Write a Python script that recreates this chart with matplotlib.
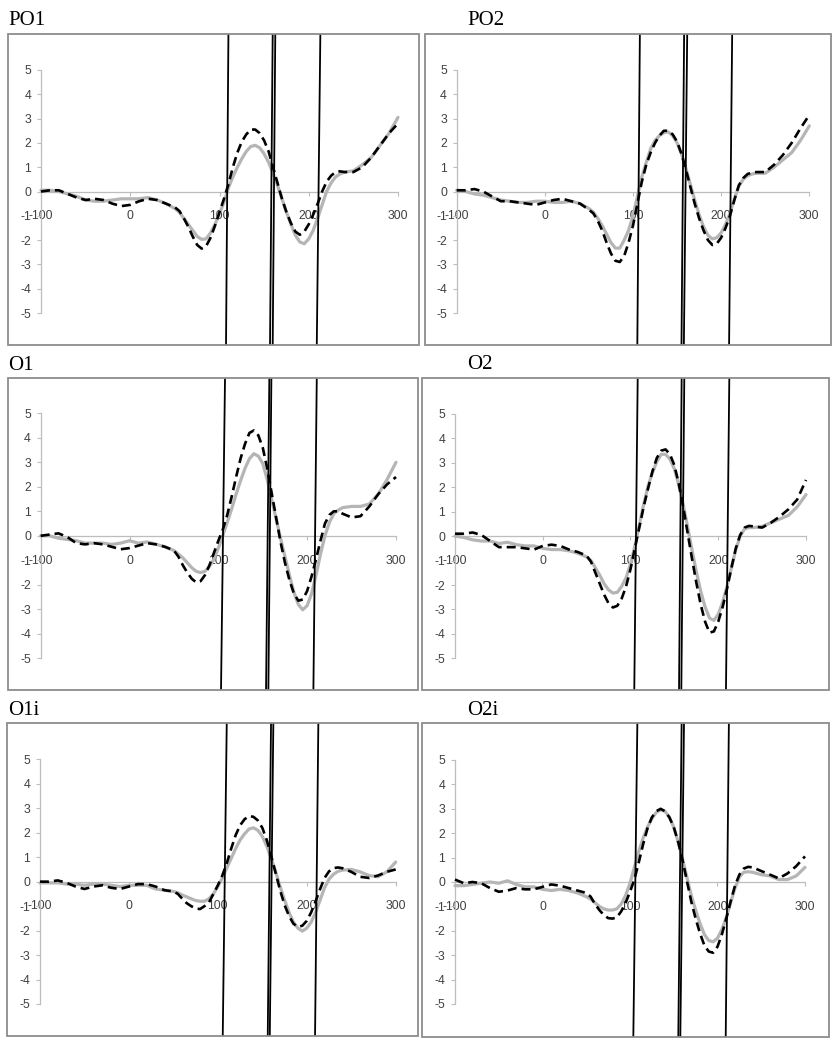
import matplotlib
matplotlib.use("Agg")
import matplotlib.pyplot as plt
from matplotlib.patches import Rectangle

# ---------------- data ----------------
# sampling: every 10 ms in the baseline / late part, every 5 ms around the components
time_ms = list(range(-100, 50, 10)) + list(range(50, 245, 5)) + list(range(250, 301, 10))

PO1_gray = [0.05, 0.05, 0.0, -0.1, -0.2, -0.35, -0.4, -0.4, -0.35, -0.3,
            -0.3, -0.3, -0.25, -0.35, -0.5,
            -0.7, -0.85, -1.1, -1.35, -1.6, -1.85, -1.97, -1.95, -1.7, -1.35,
            -0.9, -0.45, 0.15, 0.6, 1.0, 1.35, 1.65, 1.85, 1.9, 1.8,
            1.55, 1.2, 0.75, 0.25, -0.3, -0.85, -1.35, -1.8, -2.08, -2.15,
            -1.95, -1.6, -1.1, -0.55, 0.0, 0.35, 0.6, 0.72, 0.8,
            0.85, 1.1, 1.4, 1.9, 2.4, 3.05]
PO1_black = [0.0, 0.05, 0.05, -0.1, -0.25, -0.35, -0.3, -0.35, -0.5, -0.6,
             -0.55, -0.4, -0.3, -0.35, -0.5,
             -0.65, -0.8, -1.1, -1.45, -1.85, -2.2, -2.35, -2.25, -1.9, -1.4,
             -0.85, -0.3, 0.3, 1.0, 1.6, 2.05, 2.35, 2.55, 2.55, 2.4,
             2.1, 1.65, 1.0, 0.35, -0.3, -0.85, -1.3, -1.65, -1.78, -1.65,
             -1.35, -0.95, -0.5, 0.0, 0.4, 0.65, 0.8, 0.83, 0.8,
             0.8, 1.0, 1.4, 1.9, 2.4, 2.8]

PO2_gray = [0.05, 0.0, -0.1, -0.15, -0.25, -0.35, -0.4, -0.45, -0.45, -0.4,
            -0.4, -0.45, -0.45, -0.4, -0.5,
            -0.7, -0.85, -1.1, -1.4, -1.75, -2.1, -2.33, -2.33, -2.0, -1.6,
            -1.0, -0.2, 0.6, 1.2, 1.75, 2.1, 2.3, 2.42, 2.45, 2.3,
            2.0, 1.55, 0.95, 0.3, -0.35, -0.95, -1.45, -1.8, -1.95, -1.9,
            -1.7, -1.35, -0.9, -0.3, 0.2, 0.5, 0.65, 0.72, 0.75,
            0.75, 1.0, 1.3, 1.6, 2.1, 2.7]
PO2_black = [0.05, 0.05, 0.1, 0.0, -0.2, -0.4, -0.4, -0.45, -0.5, -0.55,
             -0.45, -0.35, -0.3, -0.4, -0.5,
             -0.75, -0.9, -1.2, -1.6, -2.1, -2.55, -2.85, -2.9, -2.65, -2.1,
             -1.4, -0.5, 0.4, 1.1, 1.6, 2.0, 2.3, 2.5, 2.5, 2.35,
             2.05, 1.55, 0.9, 0.2, -0.5, -1.1, -1.6, -2.0, -2.2, -2.15,
             -1.9, -1.5, -1.0, -0.35, 0.25, 0.55, 0.72, 0.78, 0.8,
             0.8, 1.1, 1.5, 2.0, 2.6, 3.15]

O1_gray = [0.0, 0.0, -0.1, -0.15, -0.2, -0.3, -0.3, -0.3, -0.35, -0.3,
           -0.2, -0.3, -0.25, -0.35, -0.45,
           -0.6, -0.75, -0.9, -1.1, -1.3, -1.45, -1.5, -1.45, -1.25, -0.95,
           -0.5, 0.0, 0.55, 1.1, 1.7, 2.25, 2.75, 3.15, 3.35, 3.25,
           2.95, 2.3, 1.5, 0.7, -0.1, -0.85, -1.6, -2.3, -2.8, -3.02,
           -2.85, -2.35, -1.6, -0.75, 0.0, 0.55, 0.9, 1.05, 1.15,
           1.2, 1.2, 1.3, 1.7, 2.3, 3.0]
O1_black = [0.0, 0.05, 0.1, -0.05, -0.3, -0.35, -0.3, -0.35, -0.45, -0.55,
            -0.5, -0.4, -0.3, -0.35, -0.45,
            -0.6, -0.85, -1.2, -1.5, -1.75, -1.9, -1.85, -1.6, -1.2, -0.7,
            -0.2, 0.25, 0.85, 1.6, 2.4, 3.15, 3.75, 4.2, 4.3, 4.1,
            3.6, 2.75, 1.75, 0.75, -0.25, -1.1, -1.8, -2.35, -2.65, -2.6,
            -2.25, -1.65, -0.95, -0.2, 0.5, 0.85, 1.0, 1.0, 0.9,
            0.75, 0.8, 1.2, 1.7, 2.1, 2.4]

O2_gray = [0.0, -0.05, -0.15, -0.2, -0.2, -0.3, -0.25, -0.35, -0.4, -0.4,
           -0.5, -0.55, -0.55, -0.6, -0.7,
           -0.85, -1.0, -1.3, -1.6, -1.95, -2.2, -2.33, -2.3, -2.05, -1.7,
           -1.15, -0.4, 0.45, 1.3, 2.05, 2.6, 3.05, 3.35, 3.35, 3.15,
           2.75, 2.1, 1.3, 0.4, -0.55, -1.45, -2.25, -2.9, -3.35, -3.45,
           -3.2, -2.7, -2.05, -1.3, -0.55, 0.0, 0.3, 0.35, 0.35,
           0.4, 0.55, 0.7, 0.85, 1.2, 1.7]
O2_black = [0.1, 0.1, 0.15, 0.05, -0.2, -0.45, -0.45, -0.45, -0.5, -0.55,
            -0.4, -0.35, -0.4, -0.55, -0.65,
            -0.8, -1.05, -1.5, -1.95, -2.4, -2.75, -2.92, -2.85, -2.55, -2.05,
            -1.35, -0.5, 0.35, 1.2, 1.95, 2.65, 3.2, 3.5, 3.55, 3.35,
            2.9, 2.15, 1.2, 0.15, -0.9, -1.9, -2.8, -3.5, -3.95, -3.9,
            -3.5, -2.9, -2.15, -1.3, -0.5, 0.05, 0.35, 0.42, 0.4,
            0.35, 0.55, 0.8, 1.1, 1.5, 2.3]

O1i_gray = [-0.05, -0.05, -0.05, -0.1, -0.1, -0.15, -0.1, -0.1, -0.15, -0.2,
            -0.15, -0.15, -0.15, -0.3, -0.35,
            -0.4, -0.45, -0.55, -0.62, -0.7, -0.77, -0.8, -0.8, -0.7, -0.5,
            -0.2, 0.15, 0.55, 0.95, 1.35, 1.7, 1.95, 2.15, 2.2, 2.1,
            1.85, 1.45, 0.95, 0.4, -0.2, -0.75, -1.25, -1.65, -1.9, -2.02,
            -1.9, -1.65, -1.25, -0.75, -0.25, 0.1, 0.3, 0.42, 0.47,
            0.5, 0.4, 0.25, 0.2, 0.4, 0.8]
O1i_black = [0.0, 0.0, 0.05, -0.05, -0.2, -0.3, -0.2, -0.15, -0.25, -0.3,
             -0.2, -0.1, -0.1, -0.2, -0.35,
             -0.4, -0.5, -0.7, -0.88, -1.0, -1.1, -1.12, -1.0, -0.85, -0.5,
             -0.15, 0.25, 0.75, 1.35, 1.9, 2.3, 2.55, 2.68, 2.65, 2.5,
             2.2, 1.7, 1.05, 0.35, -0.35, -0.95, -1.4, -1.72, -1.85, -1.8,
             -1.6, -1.25, -0.8, -0.3, 0.15, 0.42, 0.55, 0.58, 0.55,
             0.4, 0.2, 0.15, 0.25, 0.4, 0.5]

O2i_gray = [-0.15, -0.15, -0.1, -0.05, 0.0, -0.05, 0.05, -0.1, -0.2, -0.2,
            -0.3, -0.35, -0.3, -0.35, -0.45,
            -0.6, -0.7, -0.85, -1.0, -1.1, -1.15, -1.15, -1.1, -0.9, -0.55,
            -0.05, 0.6, 1.25, 1.8, 2.25, 2.6, 2.85, 2.95, 2.9, 2.65,
            2.25, 1.65, 0.95, 0.2, -0.55, -1.15, -1.7, -2.15, -2.4, -2.45,
            -2.3, -1.95, -1.45, -0.85, -0.25, 0.2, 0.4, 0.42, 0.4,
            0.3, 0.25, 0.1, 0.1, 0.25, 0.6]
O2i_black = [0.1, -0.05, 0.0, -0.05, -0.25, -0.4, -0.35, -0.25, -0.3, -0.3,
             -0.2, -0.1, -0.15, -0.25, -0.35,
             -0.45, -0.6, -0.9, -1.15, -1.35, -1.48, -1.5, -1.45, -1.2, -0.85,
             -0.4, 0.1, 0.8, 1.55, 2.2, 2.65, 2.9, 3.0, 2.9, 2.65,
             2.25, 1.65, 0.9, 0.05, -0.8, -1.5, -2.1, -2.6, -2.85, -2.9,
             -2.65, -2.15, -1.5, -0.8, -0.15, 0.3, 0.55, 0.62, 0.6,
             0.45, 0.3, 0.15, 0.35, 0.65, 1.05]

# vertical marker lines: (x at top of frame, x at bottom of frame) in ms
PO1_vlines = [(110, 107.3), (159.6, 156.6), (162.5, 159.6), (213, 209)]
PO2_vlines = [(107.8, 104.9), (158, 155), (161.5, 157.7), (212.5, 209)]
O1_vlines = [(107.5, 103), (157.4, 153.7), (159.7, 156.3), (210.8, 207)]
O2_vlines = [(108.2, 104.3), (158.3, 155.3), (161.3, 157.9), (212.6, 208.8)]
O1i_vlines = [(110, 105.5), (159.8, 156.1), (162.4, 158.4), (213, 209.3)]
O2i_vlines = [(108.4, 103.8), (159, 155.2), (161.7, 157.5), (213, 209.4)]

x_ticks = [-100, 0, 100, 200, 300]
y_ticks = [-5, -4, -3, -2, -1, 0, 1, 2, 3, 4, 5]

panels = [
    ("PO1", PO1_gray, PO1_black, PO1_vlines),
    ("PO2", PO2_gray, PO2_black, PO2_vlines),
    ("O1", O1_gray, O1_black, O1_vlines),
    ("O2", O2_gray, O2_black, O2_vlines),
    ("O1i", O1i_gray, O1i_black, O1i_vlines),
    ("O2i", O2i_gray, O2i_black, O2i_vlines),
]

# ---------------- layout (pixels) ----------------
W, H = 837, 1050
# frame left, top, right, bottom; y-axis px, x=300 px, y=5 px, y=-5 px; title x, title baseline
geom = {
    "PO1": (8.3, 34, 419, 345, 41, 398, 70, 313, 8, 25),
    "PO2": (425, 34, 831, 345, 456.7, 809.3, 70, 313, 467, 25),
    "O1": (8.3, 378.3, 418, 690, 40.7, 396, 413.3, 658.3, 8, 370),
    "O2": (422.3, 378.3, 829, 690, 455, 806, 414, 658.3, 467, 369),
    "O1i": (7.3, 723.3, 418, 1036, 40, 395.7, 759.3, 1004, 8, 715),
    "O2i": (422.3, 723.3, 829, 1036.7, 455, 805, 760, 1004, 467, 715),
}

fig = plt.figure(figsize=(W / 100, H / 100), dpi=100)
fig.patch.set_facecolor("white")

tick_font = ["Liberation Sans Narrow", "Liberation Sans", "DejaVu Sans"]

for name, gray, black, vlines in panels:
    L, T, R, B, yax, x300, y5, ym5, tx, tby = geom[name]
    ax = fig.add_axes([L / W, 1 - B / H, (R - L) / W, (B - T) / H])
    k = (x300 - yax) / 400.0
    m = (ym5 - y5) / 10.0
    y0 = (y5 + ym5) / 2.0
    xmin = -100 - (yax - L) / k
    xmax = 300 + (R - x300) / k
    ymax = (y0 - T) / m
    ymin = -(B - y0) / m
    ax.set_xlim(xmin, xmax)
    ax.set_ylim(ymin, ymax)
    ax.set_facecolor("white")

    for s in ("top", "right"):
        ax.spines[s].set_visible(False)
    ax.spines["left"].set_position(("data", -100))
    ax.spines["left"].set_bounds(-5, 5)
    ax.spines["bottom"].set_position(("data", 0))
    ax.spines["bottom"].set_bounds(-100, 300)
    for s in ("left", "bottom"):
        ax.spines[s].set_color("#bdbdbd")
        ax.spines[s].set_linewidth(0.9)

    ax.set_xticks(x_ticks)
    ax.set_yticks(y_ticks)
    ax.set_xticklabels([str(v) for v in x_ticks])
    ax.set_yticklabels([str(v) for v in y_ticks])
    ax.tick_params(axis="x", direction="out", length=3, width=0.8, color="#bdbdbd",
                   pad=10.5, labelsize=8.8, labelcolor="#404040")
    ax.tick_params(axis="y", direction="out", length=3, width=0.8, color="#bdbdbd",
                   pad=4, labelsize=8.8, labelcolor="#404040")
    for lab in ax.get_xticklabels() + ax.get_yticklabels():
        lab.set_family(tick_font)

    ax.plot(time_ms, gray, color="#b5b5b5", lw=2.3, solid_capstyle="round",
            solid_joinstyle="round", zorder=3)
    ax.plot(time_ms, black, color="black", lw=1.9, dashes=(3.4, 1.9), zorder=4)

    for xt, xb in vlines:
        ax.plot([xt, xb], [ymax, ymin], color="black", lw=1.3, zorder=5)

    ax.add_patch(Rectangle((0, 0), 1, 1, transform=ax.transAxes, fill=False,
                           edgecolor="#8c8c8c", lw=1.3, clip_on=False, zorder=6))

    fig.text(tx / W, 1 - tby / H, name, family=["Liberation Serif", "DejaVu Serif"],
             fontsize=15, va="baseline", ha="left", color="black")

fig.savefig("out.png", dpi=100, facecolor="white")
